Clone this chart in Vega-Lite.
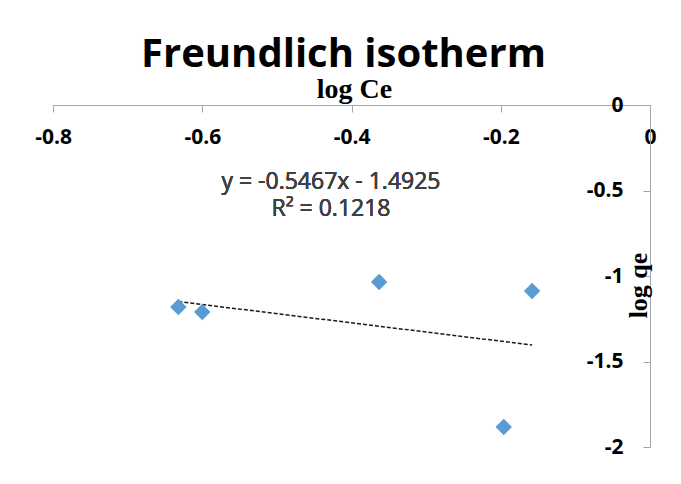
{
  "$schema": "https://vega.github.io/schema/vega-lite/v6.json",
  "width": 597,
  "height": 342,
  "autosize": {"type": "none"},
  "padding": {"left": 53, "top": 105, "right": 31, "bottom": 37},
  "background": "white",
  "title": {
    "text": "Freundlich isotherm",
    "font": "Open Sans",
    "fontSize": 40,
    "fontWeight": "bold",
    "color": "#000000",
    "anchor": "middle",
    "frame": "group",
    "dx": -8,
    "offset": 0
  },
  "data": {
    "values": [
      {"logCe": -0.632, "logqe": -1.181},
      {"logCe": -0.600, "logqe": -1.210},
      {"logCe": -0.363, "logqe": -1.035},
      {"logCe": -0.196, "logqe": -1.883},
      {"logCe": -0.158, "logqe": -1.088}
    ]
  },
  "encoding": {
    "x": {
      "field": "logCe", "type": "quantitative",
      "scale": {"domain": [-0.8, 0], "nice": false, "zero": false},
      "axis": {
        "orient": "bottom", "offset": -342,
        "values": [-0.8, -0.6, -0.4, -0.2, 0],
        "labelExpr": "'' + datum.value",
        "tickSize": 7, "tickColor": "#a6a6a6", "domainColor": "#a6a6a6",
        "labelFont": "Open Sans", "labelFontWeight": "bold", "labelFontSize": 21, "labelColor": "#000000",
        "labelBaseline": "middle", "labelPadding": 25, "labelFlush": false, "labelOverlap": false,
        "title": "log Ce", "titleFont": "Liberation Serif", "titleFontWeight": "bold", "titleFontSize": 28,
        "titleColor": "#000000", "titleX": 301, "titleY": -8, "titleBaseline": "alphabetic", "titleAlign": "center", "titleAnchor": "start"
      }
    },
    "y": {
      "field": "logqe", "type": "quantitative",
      "scale": {"domain": [-2, 0], "nice": false, "zero": false},
      "axis": {
        "orient": "left", "offset": -597,
        "values": [0, -0.5, -1, -1.5, -2],
        "labelExpr": "'' + datum.value",
        "tickSize": 7, "tickColor": "#a6a6a6", "domainColor": "#a6a6a6",
        "labelFont": "Open Sans", "labelFontWeight": "bold", "labelFontSize": 21, "labelColor": "#000000",
        "labelPadding": 20, "labelFlush": false, "labelOverlap": false,
        "title": "log qe", "titleFont": "Liberation Serif", "titleFontWeight": "bold", "titleFontSize": 26,
        "titleColor": "#000000", "titleAngle": -90, "titleX": -12, "titleY": 180, "titleBaseline": "middle", "titleAlign": "center", "titleAnchor": "start"
      }
    }
  },
  "layer": [
    {
      "transform": [{"regression": "logqe", "on": "logCe"}],
      "mark": {"type": "line", "strokeDash": [4, 2], "color": "#1a1a1a", "strokeWidth": 1.5}
    },
    {
      "mark": {"type": "point", "shape": "diamond", "filled": true, "size": 270, "color": "#5B9BD5", "opacity": 1}
    },
    {
      "mark": {"type": "text", "font": "Open Sans", "fontSize": 23, "color": "#404040", "align": "center", "baseline": "middle", "lineBreak": "\n", "lineHeight": 27},
      "encoding": {
        "x": {"datum": -0.4275, "type": "quantitative"},
        "y": {"datum": -0.45, "type": "quantitative"},
        "text": {"value": "y = -0.5467x - 1.4925\nR² = 0.1218"}
      }
    }
  ],
  "config": {
    "view": {"stroke": null},
    "axis": {"grid": false}
  }
}
